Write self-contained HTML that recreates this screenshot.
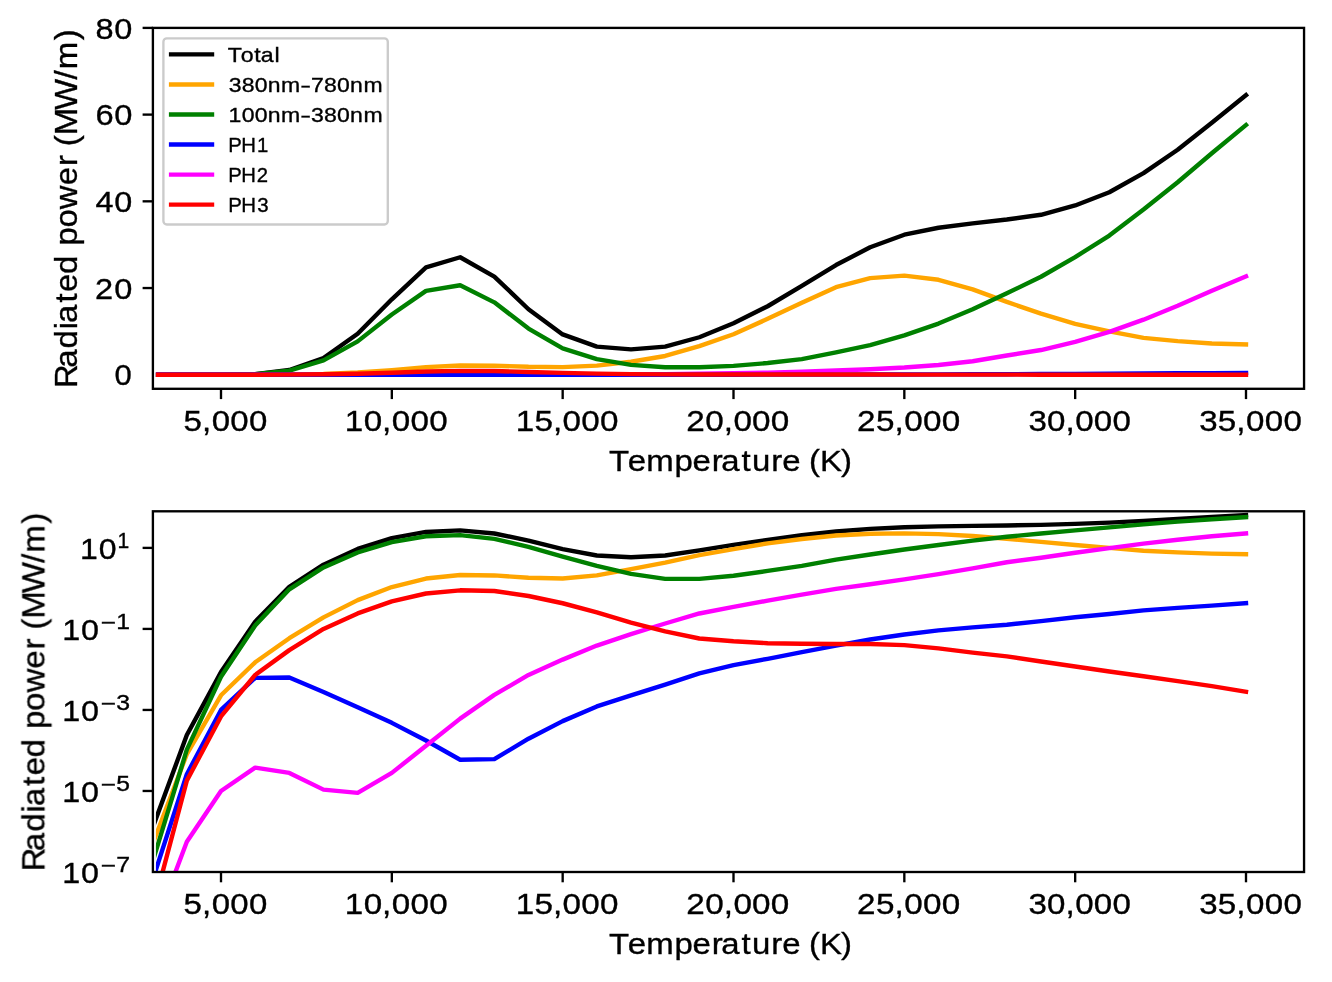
<!DOCTYPE html>
<html><head><meta charset="utf-8"><style>html,body{margin:0;padding:0;background:#fff;}svg{display:block;}text{font-family:"Liberation Sans",sans-serif;font-kerning:none;font-feature-settings:"kern" 0;}</style></head>
<body>
<svg width="1332" height="982" viewBox="0 0 1332 982" font-family="Liberation Sans, sans-serif">
<rect width="1332" height="982" fill="#fff"/>
<defs><clipPath id="c1"><rect x="155.9" y="27.9" width="1148.1499999999999" height="360.90000000000003"/></clipPath><clipPath id="c2"><rect x="155.9" y="511.3" width="1148.1499999999999" height="360.7"/></clipPath></defs>
<g clip-path="url(#c1)" fill="none" stroke-width="4.4" stroke-linejoin="round" stroke-linecap="square">
<polyline points="152.67,374.75 186.83,374.75 221.00,374.71 255.17,374.10 289.33,369.98 323.50,358.06 357.67,333.78 391.83,299.31 426.00,267.44 460.17,257.26 494.33,276.55 528.50,309.28 562.67,334.43 596.83,346.57 631.00,349.34 665.17,346.57 699.33,337.25 733.50,323.16 767.67,306.25 801.83,285.87 836.00,265.06 870.17,247.28 904.33,234.71 938.50,227.77 972.67,223.44 1006.83,219.54 1041.00,214.77 1075.17,205.44 1109.33,192.22 1143.50,173.14 1177.67,149.73 1211.83,122.85 1246.00,95.10" stroke="#000000"/>
<polyline points="152.67,374.75 186.83,374.75 221.00,374.74 255.17,374.68 289.33,374.49 323.50,373.91 357.67,372.53 391.83,370.07 426.00,367.16 460.17,365.43 494.33,365.69 528.50,366.82 562.67,367.16 596.83,365.65 631.00,361.74 665.17,355.98 699.33,346.14 733.50,334.21 767.67,318.82 801.83,302.78 836.00,287.17 870.17,278.07 904.33,275.68 938.50,279.80 972.67,289.34 1006.83,301.91 1041.00,313.62 1075.17,323.81 1109.33,331.39 1143.50,337.90 1177.67,341.15 1211.83,343.45 1246.00,344.40" stroke="#ffa500"/>
<polyline points="152.67,374.75 186.83,374.75 221.00,374.72 255.17,374.22 289.33,370.63 323.50,360.44 357.67,341.37 391.83,314.49 426.00,290.86 460.17,285.22 494.33,302.35 528.50,328.58 562.67,348.30 596.83,359.14 631.00,364.86 665.17,367.29 699.33,367.29 733.50,365.86 767.67,363.04 801.83,359.14 836.00,352.42 870.17,345.05 904.33,335.30 938.50,323.59 972.67,309.28 1006.83,293.24 1041.00,276.77 1075.17,257.04 1109.33,235.58 1143.50,209.56 1177.67,182.25 1211.83,153.20 1246.00,125.02" stroke="#008000"/>
<polyline points="152.67,374.75 186.83,374.75 221.00,374.75 255.17,374.75 289.33,374.75 323.50,374.75 357.67,374.75 391.83,374.75 426.00,374.75 460.17,374.75 494.33,374.74 528.50,374.72 562.67,374.67 596.83,374.58 631.00,374.43 665.17,374.16 699.33,373.71 733.50,373.23 767.67,372.58 801.83,371.72 836.00,370.52 870.17,369.27 904.33,367.51 938.50,364.99 972.67,361.22 1006.83,355.54 1041.00,350.04 1075.17,341.80 1109.33,331.83 1143.50,319.69 1177.67,305.81 1211.83,290.64 1246.00,276.33" stroke="#ff00ff"/>
<polyline points="152.67,374.75 186.83,374.75 221.00,374.75 255.17,374.72 289.33,374.72 323.50,374.74 357.67,374.74 391.83,374.75 426.00,374.75 460.17,374.75 494.33,374.75 528.50,374.75 562.67,374.75 596.83,374.74 631.00,374.74 665.17,374.73 699.33,374.72 733.50,374.69 767.67,374.67 801.83,374.63 836.00,374.58 870.17,374.51 904.33,374.43 938.50,374.35 972.67,374.28 1006.83,374.20 1041.00,374.07 1075.17,373.91 1109.33,373.74 1143.50,373.51 1177.67,373.32 1211.83,373.12 1246.00,372.88" stroke="#0000ff"/>
<polyline points="152.67,374.75 186.83,374.75 221.00,374.75 255.17,374.72 289.33,374.62 323.50,374.32 357.67,373.70 391.83,372.68 426.00,371.51 460.17,370.86 494.33,371.00 528.50,371.94 562.67,372.89 596.83,373.64 631.00,374.13 665.17,374.37 699.33,374.50 733.50,374.54 767.67,374.56 801.83,374.56 836.00,374.57 870.17,374.57 904.33,374.58 938.50,374.61 972.67,374.64 1006.83,374.66 1041.00,374.68 1075.17,374.70 1109.33,374.71 1143.50,374.72 1177.67,374.73 1211.83,374.73 1246.00,374.74" stroke="#ff0000"/>
</g>
<g clip-path="url(#c2)" fill="none" stroke-width="4.4" stroke-linejoin="round" stroke-linecap="square">
<polyline points="152.67,827.70 186.83,735.06 221.00,672.09 255.17,621.67 289.33,586.73 323.50,564.68 357.67,548.89 391.83,538.14 426.00,531.94 460.17,530.35 494.33,533.50 528.50,540.64 562.67,549.17 596.83,555.47 631.00,557.29 665.17,555.47 699.33,550.44 733.50,544.83 767.67,539.84 801.83,535.26 836.00,531.56 870.17,528.92 904.33,527.26 938.50,526.41 972.67,525.90 1006.83,525.45 1041.00,524.92 1075.17,523.92 1109.33,522.60 1143.50,520.85 1177.67,518.92 1211.83,516.93 1246.00,515.09" stroke="#000000"/>
<polyline points="152.67,844.04 186.83,754.17 221.00,695.29 255.17,662.30 289.33,638.20 323.50,617.35 357.67,600.15 391.83,587.05 426.00,578.56 460.17,574.94 494.33,575.43 528.50,577.77 562.67,578.56 596.83,575.35 631.00,569.07 665.17,562.62 699.33,555.20 733.50,549.07 767.67,543.41 801.83,538.97 836.00,535.52 870.17,533.78 904.33,533.35 938.50,534.10 972.67,535.96 1006.83,538.76 1041.00,541.84 1075.17,545.05 1109.33,547.89 1143.50,550.75 1177.67,552.37 1211.83,553.62 1246.00,554.17" stroke="#ffa500"/>
<polyline points="152.67,861.66 186.83,749.60 221.00,676.74 255.17,625.42 289.33,589.31 323.50,567.40 357.67,552.49 391.83,542.10 426.00,536.28 460.17,535.13 494.33,538.87 528.50,546.78 562.67,556.59 596.83,565.87 631.00,573.90 665.17,578.86 699.33,578.86 733.50,575.77 767.67,570.93 801.83,565.87 836.00,559.57 870.17,554.55 904.33,549.55 938.50,544.98 972.67,540.64 1006.83,536.78 1041.00,533.54 1075.17,530.32 1109.33,527.37 1143.50,524.35 1177.67,521.66 1211.83,519.19 1246.00,517.08" stroke="#008000"/>
<polyline points="152.67,879.85 186.83,774.16 221.00,709.95 255.17,677.84 289.33,677.56 323.50,691.96 357.67,707.33 391.83,722.86 426.00,740.51 460.17,759.74 494.33,759.16 528.50,738.71 562.67,721.12 596.83,706.45 631.00,695.29 665.17,684.70 699.33,673.36 733.50,665.09 767.67,658.80 801.83,652.09 836.00,645.58 870.17,639.50 904.33,634.50 938.50,630.40 972.67,627.40 1006.83,624.71 1041.00,621.09 1075.17,617.30 1109.33,614.00 1143.50,610.40 1177.67,607.91 1211.83,605.57 1246.00,603.20" stroke="#0000ff"/>
<polyline points="152.67,932.56 186.83,841.69 221.00,790.97 255.17,767.62 289.33,772.92 323.50,789.62 357.67,792.83 391.83,772.86 426.00,745.84 460.17,718.64 494.33,694.91 528.50,674.97 562.67,659.59 596.83,645.58 631.00,634.19 665.17,623.49 699.33,613.48 733.50,606.88 767.67,600.60 801.83,594.68 836.00,588.85 870.17,584.27 904.33,579.38 938.50,574.14 972.67,568.38 1006.83,562.22 1041.00,557.78 1075.17,552.72 1109.33,548.07 1143.50,543.68 1177.67,539.73 1211.83,536.23 1246.00,533.47" stroke="#ff00ff"/>
<polyline points="152.67,909.46 186.83,780.63 221.00,716.47 255.17,674.97 289.33,650.10 323.50,628.94 357.67,613.40 391.83,601.39 426.00,593.51 460.17,590.32 494.33,590.96 528.50,596.01 562.67,603.25 596.83,612.31 631.00,622.62 665.17,631.39 699.33,638.50 733.50,641.29 767.67,643.20 801.83,643.81 836.00,644.01 870.17,644.01 904.33,645.13 938.50,648.42 972.67,652.62 1006.83,656.38 1041.00,661.50 1075.17,666.52 1109.33,671.52 1143.50,676.22 1177.67,681.11 1211.83,686.09 1246.00,691.70" stroke="#ff0000"/>
</g>
<rect x="152.9" y="27.9" width="1151.15" height="360.90" fill="none" stroke="#000" stroke-width="2.35" stroke-linejoin="miter"/>
<line x1="221.00" y1="388.8" x2="221.00" y2="399.10" stroke="#000" stroke-width="2.35"/>
<line x1="391.83" y1="388.8" x2="391.83" y2="399.10" stroke="#000" stroke-width="2.35"/>
<line x1="562.67" y1="388.8" x2="562.67" y2="399.10" stroke="#000" stroke-width="2.35"/>
<line x1="733.50" y1="388.8" x2="733.50" y2="399.10" stroke="#000" stroke-width="2.35"/>
<line x1="904.33" y1="388.8" x2="904.33" y2="399.10" stroke="#000" stroke-width="2.35"/>
<line x1="1075.17" y1="388.8" x2="1075.17" y2="399.10" stroke="#000" stroke-width="2.35"/>
<line x1="1246.00" y1="388.8" x2="1246.00" y2="399.10" stroke="#000" stroke-width="2.35"/>
<rect x="152.9" y="511.3" width="1151.15" height="360.70" fill="none" stroke="#000" stroke-width="2.35" stroke-linejoin="miter"/>
<line x1="221.00" y1="872.0" x2="221.00" y2="882.30" stroke="#000" stroke-width="2.35"/>
<line x1="391.83" y1="872.0" x2="391.83" y2="882.30" stroke="#000" stroke-width="2.35"/>
<line x1="562.67" y1="872.0" x2="562.67" y2="882.30" stroke="#000" stroke-width="2.35"/>
<line x1="733.50" y1="872.0" x2="733.50" y2="882.30" stroke="#000" stroke-width="2.35"/>
<line x1="904.33" y1="872.0" x2="904.33" y2="882.30" stroke="#000" stroke-width="2.35"/>
<line x1="1075.17" y1="872.0" x2="1075.17" y2="882.30" stroke="#000" stroke-width="2.35"/>
<line x1="1246.00" y1="872.0" x2="1246.00" y2="882.30" stroke="#000" stroke-width="2.35"/>
<line x1="152.9" y1="288.04" x2="142.60" y2="288.04" stroke="#000" stroke-width="2.35"/>
<line x1="152.9" y1="201.33" x2="142.60" y2="201.33" stroke="#000" stroke-width="2.35"/>
<line x1="152.9" y1="114.61" x2="142.60" y2="114.61" stroke="#000" stroke-width="2.35"/>
<line x1="152.9" y1="27.90" x2="142.60" y2="27.90" stroke="#000" stroke-width="2.35"/>
<line x1="152.9" y1="547.89" x2="142.60" y2="547.89" stroke="#000" stroke-width="2.35"/>
<line x1="152.9" y1="628.92" x2="142.60" y2="628.92" stroke="#000" stroke-width="2.35"/>
<line x1="152.9" y1="709.95" x2="142.60" y2="709.95" stroke="#000" stroke-width="2.35"/>
<line x1="152.9" y1="790.97" x2="142.60" y2="790.97" stroke="#000" stroke-width="2.35"/>
<g fill="#000" stroke="#000" stroke-width="0.35" style="filter:grayscale(1)">
<text transform="translate(0,430.80) scale(1.1221,1)" font-size="29.40" x="163.51 179.94 188.61 205.28 221.95">5,000</text>
<text transform="translate(0,430.80) scale(1.1289,1)" font-size="29.40" x="305.45 322.19 338.44 347.04 363.61 380.18">10,000</text>
<text transform="translate(0,430.80) scale(1.1289,1)" font-size="29.40" x="456.78 473.42 489.77 498.36 514.93 531.50">15,000</text>
<text transform="translate(0,430.80) scale(1.1314,1)" font-size="29.40" x="606.57 623.45 639.68 648.24 664.77 681.31">20,000</text>
<text transform="translate(0,430.80) scale(1.1314,1)" font-size="29.40" x="757.57 774.34 790.67 799.24 815.77 832.30">25,000</text>
<text transform="translate(0,430.80) scale(1.1258,1)" font-size="29.40" x="913.52 930.09 946.38 955.01 971.62 988.24">30,000</text>
<text transform="translate(0,430.80) scale(1.1258,1)" font-size="29.40" x="1065.27 1081.74 1098.13 1106.76 1123.37 1139.99">35,000</text>
<text transform="translate(0,470.75) scale(1.0933,1)" font-size="30.13" x="556.96 574.17 591.20 616.88 633.46 650.90 659.68 678.23 687.74 705.54 715.45 731.98 739.87 750.06 769.28">Temperature (K)</text>
<text transform="translate(0,914.00) scale(1.1221,1)" font-size="29.40" x="163.51 179.94 188.61 205.28 221.95">5,000</text>
<text transform="translate(0,914.00) scale(1.1289,1)" font-size="29.40" x="305.45 322.19 338.44 347.04 363.61 380.18">10,000</text>
<text transform="translate(0,914.00) scale(1.1289,1)" font-size="29.40" x="456.78 473.42 489.77 498.36 514.93 531.50">15,000</text>
<text transform="translate(0,914.00) scale(1.1314,1)" font-size="29.40" x="606.57 623.45 639.68 648.24 664.77 681.31">20,000</text>
<text transform="translate(0,914.00) scale(1.1314,1)" font-size="29.40" x="757.57 774.34 790.67 799.24 815.77 832.30">25,000</text>
<text transform="translate(0,914.00) scale(1.1258,1)" font-size="29.40" x="913.52 930.09 946.38 955.01 971.62 988.24">30,000</text>
<text transform="translate(0,914.00) scale(1.1258,1)" font-size="29.40" x="1065.27 1081.74 1098.13 1106.76 1123.37 1139.99">35,000</text>
<text transform="translate(0,953.95) scale(1.0933,1)" font-size="30.13" x="556.96 574.17 591.20 616.88 633.46 650.90 659.68 678.23 687.74 705.54 715.45 731.98 739.87 750.06 769.28">Temperature (K)</text>
<text transform="translate(0,385.35) scale(1.0541,1)" font-size="29.40" x="108.74">0</text>
<text transform="translate(0,298.64) scale(1.1074,1)" font-size="29.40" x="85.87 103.11">20</text>
<text transform="translate(0,211.93) scale(1.1018,1)" font-size="29.40" x="86.70 103.68">40</text>
<text transform="translate(0,125.21) scale(1.1113,1)" font-size="29.40" x="85.89 102.72">60</text>
<text transform="translate(0,38.50) scale(1.1053,1)" font-size="29.40" x="86.40 103.33">80</text>
<text transform="translate(77.40,208.35) rotate(-90) scale(1.0583,1)" font-size="31.08" x="-169.85 -150.60 -132.33 -114.31 -108.23 -88.94 -79.13 -61.97 -44.37 -35.21 -18.04 -0.78 21.77 39.93 50.32 58.61 69.04 93.02 121.79 131.45 158.88">Radiated power (MW/m)</text>
<text transform="translate(44.40,691.65) rotate(-90) scale(1.0583,1)" font-size="31.08" x="-169.85 -150.60 -132.33 -114.31 -108.23 -88.94 -79.13 -61.97 -44.37 -35.21 -18.04 -0.78 21.77 39.93 50.32 58.61 69.04 93.02 121.79 131.45 158.88">Radiated power (MW/m)</text>
<text transform="translate(0,558.89) scale(1.0882,1)" font-size="29.40" x="73.59 90.76">10</text>
<text transform="translate(0,547.89) scale(0.9885,1)" font-size="21.35" x="118.96">1</text>
<text transform="translate(0,639.92) scale(1.0985,1)" font-size="29.40" x="56.67 73.85">10</text>
<text transform="translate(0,628.92) translate(0,0.77) scale(1.2190,1)" font-size="21.35" x="82.62">−</text><text transform="translate(0,628.92) scale(1.1584,1)" font-size="21.35" x="100.28">1</text>
<text transform="translate(0,720.95) scale(1.0985,1)" font-size="29.40" x="56.67 73.85">10</text>
<text transform="translate(0,709.95) translate(0,0.77) scale(1.2190,1)" font-size="21.35" x="82.62">−</text><text transform="translate(0,709.95) scale(1.1641,1)" font-size="21.35" x="99.94">3</text>
<text transform="translate(0,801.97) scale(1.0985,1)" font-size="29.40" x="56.67 73.85">10</text>
<text transform="translate(0,790.97) translate(0,0.77) scale(1.2190,1)" font-size="21.35" x="82.62">−</text><text transform="translate(0,790.97) scale(1.1553,1)" font-size="21.35" x="100.64">5</text>
<text transform="translate(0,883.00) scale(1.0985,1)" font-size="29.40" x="56.67 73.85">10</text>
<text transform="translate(0,872.00) translate(0,0.77) scale(1.2190,1)" font-size="21.35" x="82.62">−</text><text transform="translate(0,872.00) scale(1.1663,1)" font-size="21.35" x="99.67">7</text>
</g>
<rect x="163.4" y="38.4" width="224.4" height="186.1" rx="3.4" fill="#fff" stroke="#cbcbcb" stroke-width="2.35"/>
<line x1="171.1" y1="54.40" x2="212.0" y2="54.40" stroke="#000000" stroke-width="4.4" stroke-linecap="square"/>
<line x1="171.1" y1="84.45" x2="212.0" y2="84.45" stroke="#ffa500" stroke-width="4.4" stroke-linecap="square"/>
<line x1="171.1" y1="114.50" x2="212.0" y2="114.50" stroke="#008000" stroke-width="4.4" stroke-linecap="square"/>
<line x1="171.1" y1="144.55" x2="212.0" y2="144.55" stroke="#0000ff" stroke-width="4.4" stroke-linecap="square"/>
<line x1="171.1" y1="174.60" x2="212.0" y2="174.60" stroke="#ff00ff" stroke-width="4.4" stroke-linecap="square"/>
<line x1="171.1" y1="204.65" x2="212.0" y2="204.65" stroke="#ff0000" stroke-width="4.4" stroke-linecap="square"/>
<g fill="#000" stroke="#000" stroke-width="0.35" style="filter:grayscale(1)">
<text transform="translate(0,62.00) scale(1.1149,1)" font-size="20.81" x="204.23 216.03 228.10 233.77 246.16">Total</text>
<text transform="translate(0,92.05) scale(1.1059,1)" font-size="20.81" x="206.75 218.51 230.30 242.12 254.15">380nm</text><text transform="translate(0,92.05) translate(0,-0.34) scale(0.7134,1)" font-size="20.81" x="422.77">–</text><text transform="translate(0,92.05) scale(1.1059,1)" font-size="20.81" x="281.13 292.96 304.76 316.57 328.60">780nm</text>
<text transform="translate(0,122.10) scale(1.1073,1)" font-size="20.81" x="206.34 218.23 230.01 241.81 253.83">100nm</text><text transform="translate(0,122.10) translate(0,-0.34) scale(0.7134,1)" font-size="20.81" x="422.77">–</text><text transform="translate(0,122.10) scale(1.1073,1)" font-size="20.81" x="280.85 292.60 304.37 316.17 328.19">380nm</text>
<text transform="translate(0,152.15) scale(0.9778,1)" font-size="20.81" x="233.44 246.70 262.88">PH1</text>
<text transform="translate(0,182.20) scale(0.9743,1)" font-size="20.81" x="234.29 247.60 263.65">PH2</text>
<text transform="translate(0,212.25) scale(0.9818,1)" font-size="20.81" x="232.46 245.66 261.91">PH3</text>
</g>
</svg>
</body></html>
